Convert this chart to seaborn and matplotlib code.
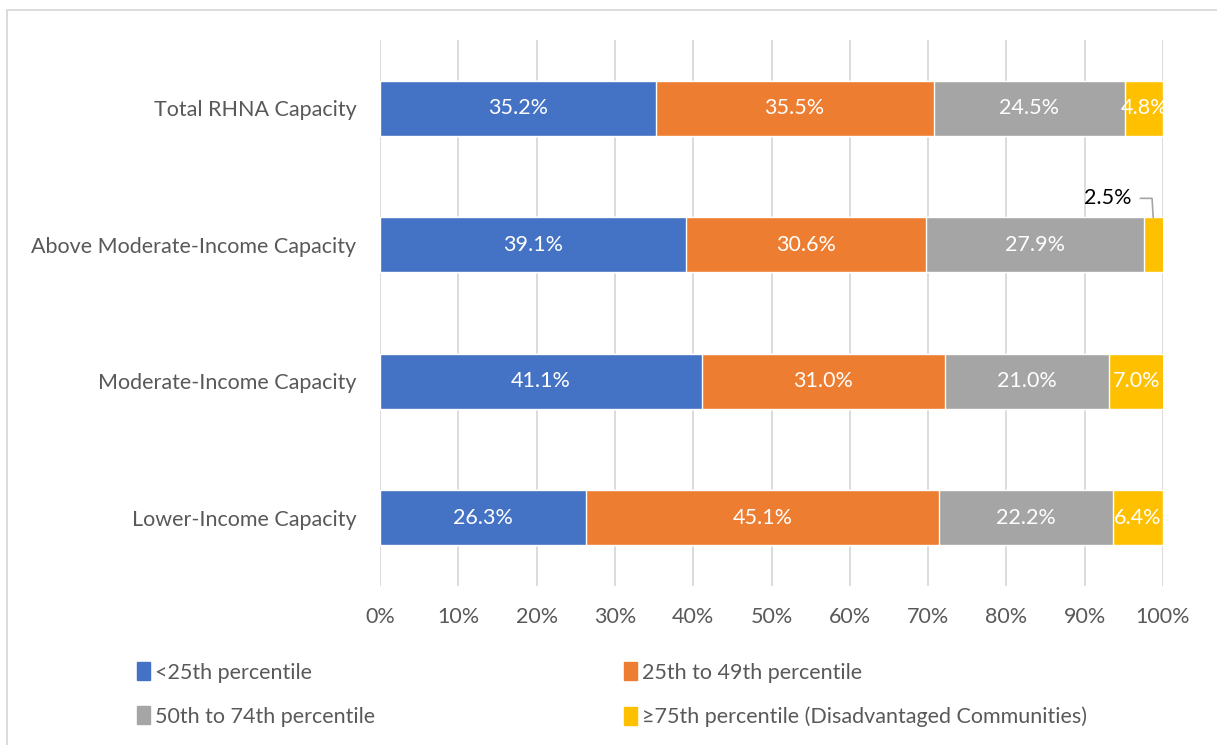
import matplotlib
matplotlib.use("Agg")
import matplotlib.pyplot as plt
import matplotlib.patches as mpatches
import seaborn as sns
import pandas as pd
import numpy as np

categories = ["Total RHNA Capacity", "Above Moderate-Income Capacity",
              "Moderate-Income Capacity", "Lower-Income Capacity"]
series_names = ["<25th percentile", "25th to 49th percentile",
                "50th to 74th percentile", "\u226575th percentile (Disadvantaged Communities)"]
s_lt25 = [35.2, 39.1, 41.1, 26.3]
s_25_49 = [35.5, 30.6, 31.0, 45.1]
s_50_74 = [24.5, 27.9, 21.0, 22.2]
s_ge75 = [4.8, 2.5, 7.0, 6.4]
x_ticks = [0, 10, 20, 30, 40, 50, 60, 70, 80, 90, 100]

colors = ["#4472C4", "#ED7D31", "#A5A5A5", "#FFC000"]

sns.set_theme(style="white")
plt.rcParams["font.family"] = ["Lato", "DejaVu Sans"]

fig = plt.figure(figsize=(12.17, 7.45), dpi=100)
ax = fig.add_axes([380/1217, 1-586/745, (1163-380)/1217, (586-40)/745])

series = [s_lt25, s_25_49, s_50_74, s_ge75]
vals = np.array(series)
cum = np.cumsum(vals, axis=0)

for i in reversed(range(4)):
    df = pd.DataFrame({"cat": categories, "val": cum[i]})
    sns.barplot(data=df, y="cat", x="val", orient="h", color=colors[i],
                saturation=1, width=0.4, ax=ax, zorder=3)

fs = 15.5
for j, cat in enumerate(categories):
    for i in range(4):
        left = cum[i][j] - vals[i][j]
        v = vals[i][j]
        center = left + v / 2
        if i == 3 and v < 3:
            ax.text(93.0, j - 0.34, f"{v:.1f}%", ha="center", va="center",
                    color="black", fontsize=fs, zorder=5)
            ax.plot([97.1, 98.6, 98.75], [j - 0.34, j - 0.34, j - 0.2],
                    color="#A5A5A5", lw=1.2, zorder=5, clip_on=False)
        else:
            ax.text(center, j, f"{v:.1f}%", ha="center", va="center",
                    color="white", fontsize=fs, zorder=5, clip_on=False)

ax.set_xlim(0, 100)
ax.set_ylim(3.5, -0.5)
ax.set_xticks(x_ticks)
ax.set_xticklabels([f"{t}%" for t in x_ticks])
ax.xaxis.grid(True, color="#D9D9D9", lw=1.3, zorder=0)
ax.set_axisbelow(True)
for sp in ax.spines.values():
    sp.set_visible(False)
ax.tick_params(axis="x", length=0, pad=15, labelsize=fs, labelcolor="#595959")
ax.tick_params(axis="y", length=0, pad=17, labelsize=fs, labelcolor="#595959")
ax.set_xlabel("")
ax.set_ylabel("")

fig.patches.append(mpatches.Rectangle((7/1217, -0.1), 1.2, 1.1 - 10/745,
                                      transform=fig.transFigure, fill=False,
                                      edgecolor="#D9D9D9", lw=1.3))

handles = [mpatches.Patch(color=colors[0], label=series_names[0]),
           mpatches.Patch(color=colors[2], label=series_names[2]),
           mpatches.Patch(color=colors[1], label=series_names[1]),
           mpatches.Patch(color=colors[3], label=series_names[3])]
leg = fig.legend(handles=handles, ncol=2, loc="upper left",
                 bbox_to_anchor=(118/1217, 1-643/745), frameon=False,
                 fontsize=fs, handlelength=0.6, handleheight=0.9,
                 handletextpad=0.2, columnspacing=11.6, labelspacing=1.1,
                 labelcolor="#595959")

fig.savefig("out.png", dpi=100)
